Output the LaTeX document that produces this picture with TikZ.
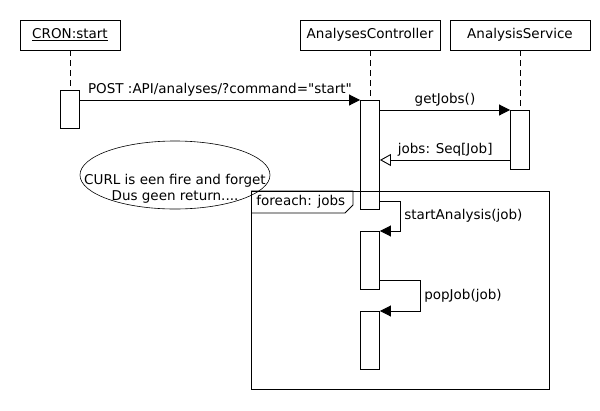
\documentclass[tikz,border=0pt]{standalone}
\usepackage{fontspec}
\setmainfont{DejaVu Sans}
\usetikzlibrary{arrows.meta}
\usetikzlibrary{calc}
\usetikzlibrary{shapes.geometric}

\begin{document}
\begin{tikzpicture}[x=1pt, y=-1pt, line width=0.9pt,
        font=\fontsize{13.5}{16}\selectfont,
        head/.style={draw, minimum height=30pt, inner sep=2pt},
        actbox/.style={draw, fill=white, minimum width=19pt, inner sep=0pt, anchor=north},
        lifeline/.style={dash pattern=on 6pt off 4pt},
        msg/.style={-{Triangle[length=11pt,width=11pt]}},
        reply/.style={-{Triangle[open,length=11pt,width=12pt]}}]
        \useasboundingbox (0,0) rectangle (600,410);

        % heads
        \node[head, minimum width=100pt] (cron) at (70,35) {\underline{CRON:start}};
        \node[head, minimum width=140pt] (ctrl) at (370,35) {AnalysesController};
        \node[head, minimum width=140pt] (serv) at (520,35) {AnalysisService};

        % activations
        \node[actbox, minimum height=38pt] (cronAct) at (70,90) {};
        \node[actbox, minimum height=109pt] (ctrlActA) at (370,100) {};
        \node[actbox, minimum height=59pt] (servAct) at (520,110) {};
        \node[actbox, minimum height=58pt] (ctrlActB) at (370,231) {};
        \node[actbox, minimum height=58pt] (ctrlActC) at (370,311) {};

        \draw[lifeline] (cron.south) -- (cronAct.north);
        \draw[lifeline] (ctrl.south) -- (ctrlActA.north);
        \draw[lifeline] (serv.south) -- (servAct.north);

        % messages
        \draw[msg] (cronAct.east |- ctrlActA.north) -- (ctrlActA.north west) node[midway,above] {POST :API/analyses/?command=\textquotedbl start\textquotedbl};
        \draw[msg] (ctrlActA.east |- servAct.north) -- (servAct.north west) node[midway,above] {getJobs()};
        \coordinate (jobsRet) at (510.5,160);
        \draw[reply] (jobsRet) -- (jobsRet -| ctrlActA.east) node[midway,above] {jobs: Seq[Job]};

        \coordinate (startCall) at (379.5,201);
        \draw[msg] (startCall) -- ++(21,0) |- node[pos=0.25,right] {startAnalysis(job)} (ctrlActB.north east);
        \coordinate (popCall) at (379.5,280);
        \draw[msg] (popCall) -- ++(41,0) |- node[pos=0.25,right] {popJob(job)} (ctrlActC.north east);

        % note
        \node[draw, ellipse, line width=0.6pt, minimum width=190pt, minimum height=68pt] (note) at (175,175) {};
        \node[align=center, inner sep=0pt] (noteText) at (175,189) {CURL is een fire and forget\\Dus geen return....};

        % loop frame
        \node[draw, minimum width=298pt, minimum height=198pt, inner sep=0pt, anchor=north west] (loop) at (251,191) {};
        \draw (loop.north west) -- ++(102,0) -- ++(0,14) -- ++(-8,8) -- ($(loop.north west)+(0,22)$);
        \node[anchor=west, inner sep=0pt] (loopLabel) at (256,202) {foreach: jobs};
    \end{tikzpicture}
\end{document}
